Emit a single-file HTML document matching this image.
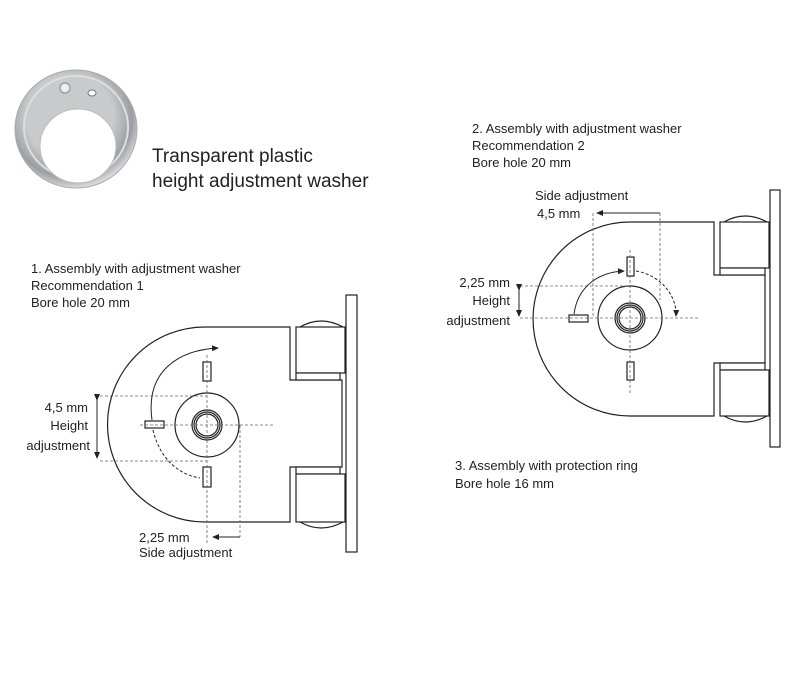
<!DOCTYPE html>
<html><head><meta charset="utf-8"><style>
body{margin:0;background:#fff}
svg text{font-family:"Liberation Sans",sans-serif;fill:#222}
</style></head><body>
<svg width="800" height="669" viewBox="0 0 800 669" xmlns="http://www.w3.org/2000/svg">
<defs>
<radialGradient id="wg" cx="0.45" cy="0.4" r="0.6">
<stop offset="0.6" stop-color="#c8cacc"/><stop offset="0.85" stop-color="#9a9ea2"/><stop offset="1" stop-color="#d8dadc"/>
</radialGradient>
<marker id="ah" markerWidth="8" markerHeight="8" refX="6" refY="4" orient="auto" markerUnits="userSpaceOnUse">
<path d="M0,1 L7,4 L0,7 Z" fill="#222"/></marker>
</defs>
<!-- washer -->
<ellipse cx="76" cy="129" rx="61" ry="59" fill="url(#wg)" stroke="#aaa"/>
<ellipse cx="76" cy="127" rx="52" ry="51" fill="none" stroke="#ddd" stroke-width="2"/>
<ellipse cx="78" cy="146" rx="38" ry="37" fill="#fff" stroke="#bbb"/>
<circle cx="65" cy="88" r="5" fill="#eee" stroke="#888"/>
<ellipse cx="92" cy="93" rx="4" ry="3" fill="#fff" stroke="#777"/>
<text x="152" y="162" font-size="19">Transparent plastic</text>
<text x="152" y="187" font-size="19">height adjustment washer</text>

<!-- Diagram 1 -->
<g font-size="13">
<text x="31" y="273">1. Assembly with adjustment washer</text>
<text x="31" y="290">Recommendation 1</text>
<text x="31" y="307">Bore hole 20 mm</text>
<text x="88" y="412" text-anchor="end">4,5 mm</text>
<text x="88" y="430" text-anchor="end">Height</text>
<text x="90" y="450" text-anchor="end">adjustment</text>
<text x="139" y="542">2,25 mm</text>
<text x="139" y="557">Side adjustment</text>
</g>
<g fill="#fff" stroke="#222" stroke-width="1.2">
<rect x="346" y="295" width="11" height="257"/>
<path d="M300,327 Q321,315 343,327"/>
<path d="M300,522 Q321,534 343,522"/>
<path d="M290,327 H205 A97,97 0 0 0 205,522 H290 V467 H342 V380 H290 Z"/>
<rect x="296" y="327" width="49" height="46"/>
<rect x="296" y="373" width="44" height="7"/>
<rect x="296" y="467" width="44" height="7"/>
<rect x="296" y="474" width="49" height="48"/>
<circle cx="207" cy="425" r="32"/>
<circle cx="207" cy="425" r="15"/><circle cx="207" cy="425" r="13"/><circle cx="207" cy="425" r="11"/>
<rect x="203" y="362" width="8" height="19"/><rect x="203" y="467" width="8" height="20"/>
<rect x="145" y="421" width="19" height="7"/>
</g>
<g fill="none" stroke="#666" stroke-dasharray="3,2" stroke-width="0.8">
<path d="M140,425 H275 M207,355 V545 M100,396 H207 M100,461 H207 M240,425 V537"/>
</g>
<g fill="none" stroke="#222" stroke-width="1">
<path d="M240,537 H213" marker-end="url(#ah)"/>
<path d="M97,400 V458" marker-end="url(#ah)" marker-start="url(#ah)"/>
<path d="M152,420 C145,370 180,350 218,348" marker-end="url(#ah)"/>
<path d="M153,430 C160,460 180,475 200,478" stroke-dasharray="3,2"/>
</g>

<!-- Diagram 2 -->
<g font-size="13">
<text x="472" y="133">2. Assembly with adjustment washer</text>
<text x="472" y="150">Recommendation 2</text>
<text x="472" y="167">Bore hole 20 mm</text>
<text x="535" y="200">Side adjustment</text>
<text x="537" y="218">4,5 mm</text>
<text x="510" y="287" text-anchor="end">2,25 mm</text>
<text x="510" y="305" text-anchor="end">Height</text>
<text x="510" y="325" text-anchor="end">adjustment</text>
<text x="455" y="470">3. Assembly with protection ring</text>
<text x="455" y="488">Bore hole 16 mm</text>
</g>
<g fill="#fff" stroke="#222" stroke-width="1.2">
<rect x="770" y="190" width="10" height="257"/>
<path d="M724,222 Q745,210 767,222"/>
<path d="M724,416 Q745,428 767,416"/>
<path d="M714,222 H630 A97,97 0 0 0 630,416 H714 V363 H765 V275 H714 Z"/>
<rect x="720" y="222" width="49" height="46"/>
<rect x="720" y="268" width="45" height="7"/>
<rect x="720" y="363" width="45" height="7"/>
<rect x="720" y="370" width="49" height="46"/>
<circle cx="630" cy="318" r="32"/>
<circle cx="630" cy="318" r="15"/><circle cx="630" cy="318" r="13"/><circle cx="630" cy="318" r="11"/>
<rect x="627" y="257" width="7" height="19"/><rect x="627" y="362" width="7" height="18"/>
<rect x="569" y="315" width="19" height="7"/>
</g>
<g fill="none" stroke="#666" stroke-dasharray="3,2" stroke-width="0.8">
<path d="M520,318 H700 M630,250 V395 M520,286 H630 M593,213 V318 M660,213 V300"/>
</g>
<g fill="none" stroke="#222" stroke-width="1">
<path d="M660,213 H597" marker-end="url(#ah)"/>
<path d="M519,290 V316" marker-end="url(#ah)" marker-start="url(#ah)"/>
<path d="M574,314 C578,285 600,272 624,271" marker-end="url(#ah)"/>
<path d="M636,271 C660,275 677,295 676,316" stroke-dasharray="3,2" marker-end="url(#ah)"/>
</g>
</svg>
</body></html>
